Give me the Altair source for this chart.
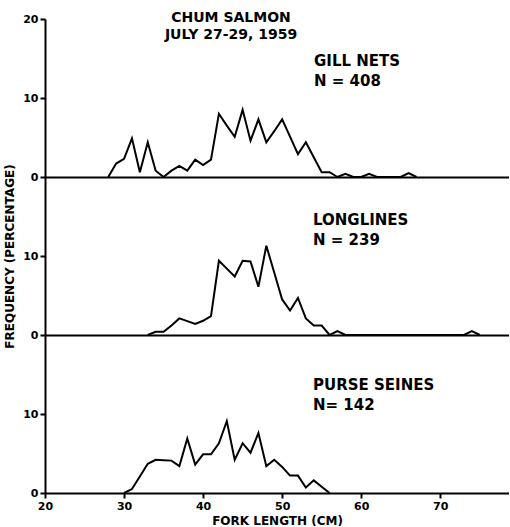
import altair as alt
import pandas as pd

# Gill nets (N = 408)
gill_length = list(range(28, 68))
gill_freq = [0, 1.7, 2.3, 4.9, 0.6, 4.4, 0.8, 0, 0.8, 1.4,
             0.8, 2.2, 1.5, 2.2, 8.0, 6.5, 5.1, 8.5, 4.6, 7.3,
             4.4, 5.8, 7.3, 5.1, 2.9, 4.4, 2.5, 0.6, 0.6, 0,
             0.4, 0, 0, 0.4, 0, 0, 0, 0, 0.5, 0]

# Longlines (N = 239)
long_length = list(range(33, 76))
long_freq = [0, 0.4, 0.4, 1.2, 2.1, 1.75, 1.4, 1.8, 2.4, 9.4,
             8.4, 7.4, 9.4, 9.3, 6.1, 11.3, 7.9, 4.5, 3.1, 4.7,
             2.1, 1.2, 1.2, 0, 0.5, 0, 0, 0, 0, 0,
             0, 0, 0, 0, 0, 0, 0, 0, 0, 0,
             0, 0.5, 0]

# Purse seines (N = 142)
purse_length = list(range(30, 57))
purse_freq = [0, 0.5, 2.1, 3.7, 4.2, 4.15, 4.1, 3.4, 6.9, 3.6,
              4.9, 4.9, 6.3, 9.1, 4.2, 6.3, 5.1, 7.6, 3.4, 4.2,
              3.3, 2.2, 2.2, 0.7, 1.6, 0.8, 0]

x_ticks = [20, 30, 40, 50, 60, 70]
FONT = "DejaVu Sans"
W, H = 464, 158
X_DOMAIN = [20, 78.7]


def text_layer(lines, x, y0, dy=20, align="left", size=15):
    layers = []
    for i, t in enumerate(lines):
        layers.append(
            alt.Chart(pd.DataFrame({"t": [t]}))
            .mark_text(align=align, baseline="middle", font=FONT,
                       fontSize=size, fontWeight="bold", color="black")
            .encode(x=alt.value(x), y=alt.value(y0 + i * dy), text="t:N")
        )
    return layers


def panel(lengths, freqs, y_values, x_axis, y_title=None, texts=()):
    df = pd.DataFrame({"length": lengths, "freq": freqs})
    y_axis_kwargs = dict(values=y_values, tickSize=5, labelPadding=2,
                         title=y_title if y_title else None)
    if y_title:
        y_axis_kwargs["titlePadding"] = 6
    line = alt.Chart(df).mark_line(color="black", strokeWidth=2).encode(
        x=alt.X("length:Q", scale=alt.Scale(domain=X_DOMAIN, nice=False, zero=False),
                axis=x_axis),
        y=alt.Y("freq:Q", scale=alt.Scale(domain=[0, 20], nice=False),
                axis=alt.Axis(**y_axis_kwargs)),
    )
    return alt.layer(line, *texts).properties(width=W, height=H)


no_x = alt.Axis(labels=False, ticks=False, title=None, domain=True)
bottom_x = alt.Axis(values=x_ticks, tickSize=5, labelPadding=2, labelFlush=False,
                    title="FORK LENGTH (CM)", titlePadding=4)

top = panel(gill_length, gill_freq, [0, 10, 20], no_x,
            texts=text_layer(["CHUM SALMON", "JULY 27-29, 1959"], 186, -1, dy=17,
                             align="center", size=14)
            + text_layer(["GILL NETS", "N = 408"], 269, 42))
mid = panel(long_length, long_freq, [0, 10], no_x, y_title="FREQUENCY (PERCENTAGE)",
            texts=text_layer(["LONGLINES", "N = 239"], 268, 43))
bot = panel(purse_length, purse_freq, [0, 10], bottom_x,
            texts=text_layer(["PURSE SEINES", "N= 142"], 268, 50))

chart = (
    alt.vconcat(top, mid, bot, spacing=0, bounds="flush")
    .properties(padding={"left": 3, "top": 11, "right": 0, "bottom": 0},
                background="white")
    .configure_view(stroke=None)
    .configure_axis(domainColor="black", domainWidth=2, tickColor="black",
                    tickWidth=2, labelColor="black", titleColor="black",
                    grid=False, labelFont=FONT, labelFontSize=11,
                    labelFontWeight="bold", titleFont=FONT, titleFontSize=12,
                    titleFontWeight="bold")
)

chart.save("out.html", embed_options={"renderer": "svg", "actions": False})
